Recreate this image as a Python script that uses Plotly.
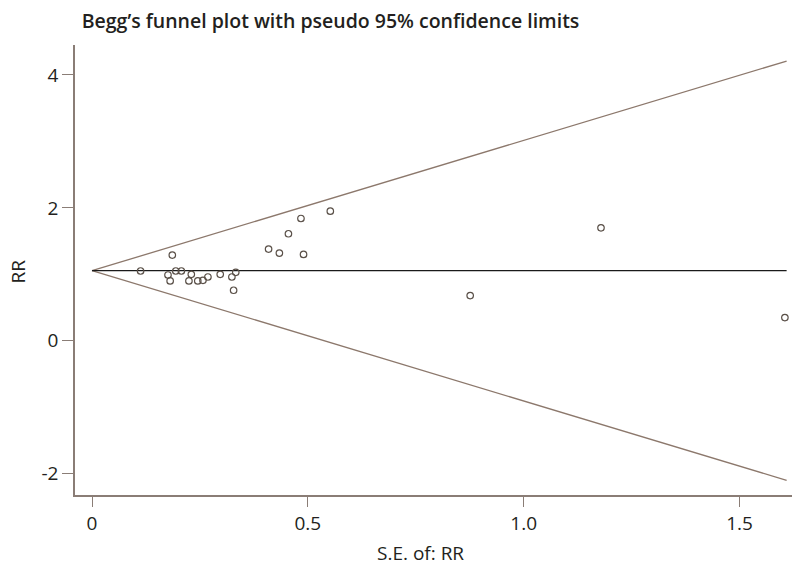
import plotly.graph_objects as go

# Study data
se = [0.1125, 0.186, 0.176, 0.181, 0.194, 0.207, 0.230, 0.2245, 0.245, 0.257,
      0.2685, 0.297, 0.324, 0.333, 0.328, 0.409, 0.434, 0.455, 0.484, 0.490,
      0.552, 0.876, 1.179, 1.605]
rr = [1.05, 1.29, 0.99, 0.90, 1.05, 1.05, 1.00, 0.90, 0.90, 0.91,
      0.96, 1.00, 0.96, 1.03, 0.76, 1.38, 1.32, 1.61, 1.84, 1.30,
      1.95, 0.68, 1.70, 0.35]

pooled = 1.055
se_line = [0.0, 1.609]
upper_line = [pooled, pooled + 1.96 * se_line[1]]
lower_line = [pooled, pooled - 1.96 * se_line[1]]
center_line = [pooled, pooled]

x_ticks = [0, 0.5, 1.0, 1.5]
x_tick_text = ["0", "0.5", "1.0", "1.5"]
y_ticks = [-2, 0, 2, 4]
y_tick_text = ["-2", "0", "2", "4"]

axis_col = "#8a7d76"
funnel_col = "#8c786c"
text_col = "#231f20"

fig = go.Figure()
fig.add_trace(go.Scatter(x=se_line, y=upper_line, mode="lines",
                         line=dict(color=funnel_col, width=1.3), hoverinfo="skip"))
fig.add_trace(go.Scatter(x=se_line, y=lower_line, mode="lines",
                         line=dict(color=funnel_col, width=1.3), hoverinfo="skip"))
fig.add_trace(go.Scatter(x=se_line, y=center_line, mode="lines",
                         line=dict(color="#1a1a1a", width=1.3), hoverinfo="skip"))
fig.add_trace(go.Scatter(x=se, y=rr, mode="markers",
                         marker=dict(symbol="circle-open", size=6.5,
                                     color="#5a5048", line=dict(width=1.2))))

font_family = "Open Sans, Noto Sans, sans-serif"

# the page puts the figure 8px in from the top-left corner
fig.update_layout(
    width=800, height=562,
    margin=dict(l=67, r=8, t=37, b=75),
    paper_bgcolor="white", plot_bgcolor="white",
    showlegend=False,
    font=dict(family=font_family, color=text_col, size=19),
    title=dict(text="Begg\u2019s funnel plot with pseudo 95% confidence limits",
               xref="container", x=(81.7 - 8) / 800, xanchor="left",
               yref="container", y=1 - (20.7 - 8) / 562, yanchor="middle",
               font=dict(size=19.5, family=font_family, weight=600, color=text_col)),
    xaxis=dict(range=[-0.0394, 1.64], tickvals=x_ticks, ticktext=x_tick_text,
               showgrid=False, zeroline=False, showline=True, linecolor=axis_col,
               linewidth=1.5, ticks="outside", ticklen=10, tickcolor=axis_col,
               tickwidth=1.3, tickfont=dict(size=19), automargin=False),
    yaxis=dict(range=[-2.32, 4.45], tickvals=y_ticks, ticktext=y_tick_text,
               showgrid=False, zeroline=False, showline=True, linecolor=axis_col,
               linewidth=1.5, ticks="outside", ticklen=11, tickcolor=axis_col,
               tickwidth=1.3, tickfont=dict(size=19), automargin=False),
    annotations=[
        dict(text="S.E. of: RR", xref="paper", yref="paper",
             x=(420.5 - 75) / 725, y=-(553 - 495) / 450,
             xanchor="center", yanchor="middle", showarrow=False,
             font=dict(size=19, color=text_col)),
        dict(text="RR", xref="paper", yref="paper",
             x=-(75 - 17.5) / 725, y=(495 - 271) / 450,
             xanchor="center", yanchor="middle", textangle=-90, showarrow=False,
             font=dict(size=19, color=text_col)),
    ],
)

fig.write_html("out.html")
